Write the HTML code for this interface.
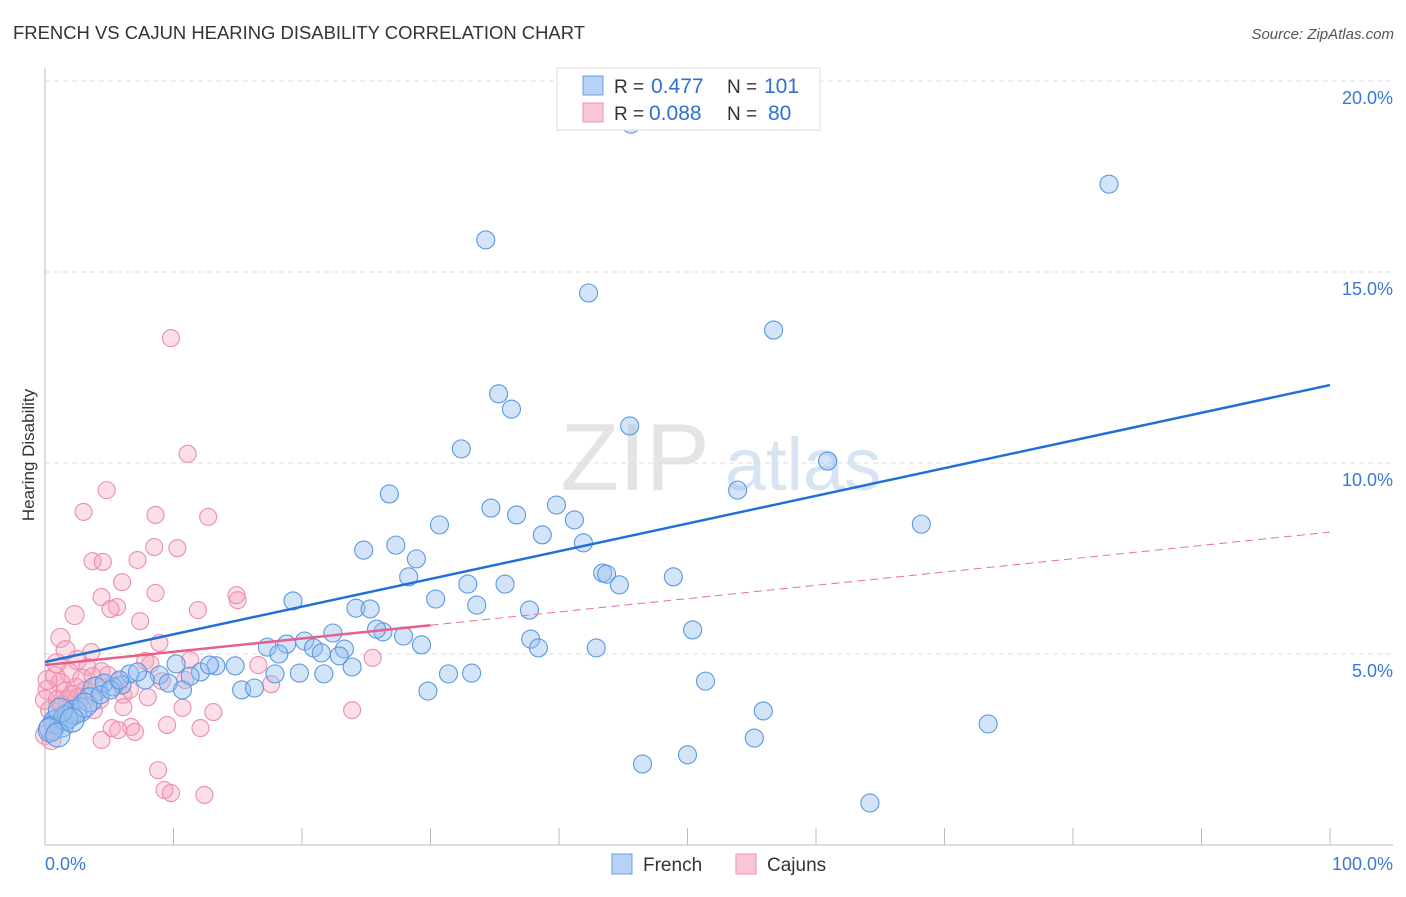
<!DOCTYPE html>
<html><head><meta charset="utf-8"><style>
body{margin:0;background:#fff;font-family:"Liberation Sans",sans-serif;}
svg text{font-family:"Liberation Sans",sans-serif;}
</style></head><body>
<svg id="chart" width="1406" height="892" viewBox="0 0 1406 892">
<text x="13" y="39" font-size="18" fill="#333" textLength="572" lengthAdjust="spacingAndGlyphs">FRENCH VS CAJUN HEARING DISABILITY CORRELATION CHART</text>
<text x="1394" y="39" font-size="15" fill="#555" font-style="italic" text-anchor="end">Source: ZipAtlas.com</text>
<g>
<text x="635" y="490" font-size="96" fill="#e4e4e4" text-anchor="middle" font-family="Liberation Serif,serif">ZIP</text>
<text x="803" y="490" font-size="74" fill="#d6e4f4" text-anchor="middle">atlas</text>
</g>
<g id="grid"></g><g id="axes"></g><g id="pts"></g><g id="trends"></g>
<text transform="translate(34,455) rotate(-90)" font-size="17" fill="#333" text-anchor="middle">Hearing Disability</text>
<text x="45" y="870" font-size="18" fill="#3a78d8">0.0%</text>
<text x="1393" y="870" font-size="18" fill="#3a78d8" text-anchor="end">100.0%</text>
<g>
<rect x="557" y="68" width="263" height="62" fill="#fff" stroke="#ddd"/>
<rect x="583" y="76" width="20" height="19" fill="#b7d2f5" stroke="#6a9fe0"/>
<rect x="583" y="103" width="20" height="19" fill="#f9c6d5" stroke="#eb95b0"/>
<text x="614" y="93" font-size="19" fill="#333">R = <tspan x="651" font-size="21" fill="#2f6fd4">0.477</tspan><tspan x="727">N = </tspan><tspan x="764" font-size="21" fill="#2f6fd4">101</tspan></text>
<text x="614" y="120" font-size="19" fill="#333">R = <tspan x="649" font-size="21" fill="#2f6fd4">0.088</tspan><tspan x="727">N = </tspan><tspan x="768" font-size="21" fill="#2f6fd4">80</tspan></text>
</g>
<g>
<rect x="612" y="854" width="20" height="20" fill="#b7d2f5" stroke="#6a9fe0"/>
<text x="643" y="871" font-size="19" fill="#333">French</text>
<rect x="736" y="854" width="20" height="20" fill="#f9c6d5" stroke="#eb95b0"/>
<text x="767" y="871" font-size="19" fill="#333">Cajuns</text>
</g>
</svg>
<script>
const yTicks=[5,10,15,20];
const yTickLabels=["5.0%","10.0%","15.0%","20.0%"];
const xTicks=[10,20,30,40,50,60,70,80,90,100];
const frenchX=[45.6,82.8,34.3,42.3,56.7,35.3,36.3,45.5,32.4,60.9,53.9,26.8,34.7,39.8,36.7,41.2,30.7,68.2,38.7,41.9,24.8,27.3,28.9,28.3,43.4,43.7,48.9,32.9,35.8,44.7,19.3,30.4,24.2,25.3,33.6,37.7,26.3,27.9,22.4,25.8,50.4,37.8,38.4,42.9,17.3,18.8,20.2,20.9,21.5,23.3,18.2,22.9,29.3,23.9,19.8,21.7,31.4,33.2,51.4,29.8,15.3,16.3,17.9,14.8,13.3,12.1,12.8,10.2,11.3,8.9,7.8,6.6,6.0,5.3,3.9,4.6,9.6,10.7,55.9,73.4,55.2,46.5,50.0,64.2,1.3,0.8,0.5,1.9,2.7,3.5,2.3,1.6,1.2,3.1,4.3,0.4,1.0,2.1,5.1,5.8,7.2];
const frenchY=[18.87,17.30,15.84,14.45,13.48,11.81,11.41,10.97,10.37,10.05,9.29,9.19,8.82,8.90,8.64,8.51,8.38,8.40,8.12,7.91,7.72,7.85,7.49,7.02,7.12,7.09,7.02,6.83,6.83,6.81,6.39,6.44,6.20,6.18,6.28,6.15,5.58,5.47,5.55,5.65,5.63,5.39,5.16,5.16,5.18,5.26,5.34,5.16,5.03,5.13,5.00,4.95,5.24,4.66,4.50,4.48,4.48,4.50,4.29,4.03,4.06,4.11,4.48,4.69,4.69,4.53,4.71,4.74,4.42,4.45,4.32,4.48,4.19,4.14,4.08,4.24,4.24,4.06,3.51,3.17,2.80,2.12,2.36,1.10,3.14,3.22,3.06,3.40,3.53,3.80,3.48,3.32,3.53,3.66,3.93,3.01,2.88,3.27,4.06,4.32,4.53];
const cajunX=[9.8,11.1,4.8,3.0,8.6,12.7,8.5,10.3,3.7,4.5,7.2,6.0,2.3,4.4,8.6,14.9,5.6,5.1,11.9,15.0,7.4,1.2,8.9,3.6,2.5,7.8,11.3,8.2,16.6,25.5,1.9,3.3,4.4,0.8,1.2,2.9,3.7,5.7,9.1,10.9,17.6,0.2,1.6,2.4,4.3,6.1,8.0,6.1,10.7,13.1,23.9,0,0.4,0.8,1.3,1.8,2.6,3.8,5.2,6.7,9.5,12.1,5.7,7.0,4.4,8.8,9.3,9.8,12.4,0,0.5,1.0,2.1,3.1,4.0,4.9,6.6,0.2,0.9,1.6];
const cajunY=[13.27,10.24,9.29,8.72,8.64,8.59,7.80,7.77,7.43,7.41,7.46,6.88,6.02,6.49,6.60,6.54,6.23,6.18,6.15,6.41,5.86,5.42,5.29,5.05,4.84,4.82,4.84,4.74,4.71,4.90,4.50,4.66,4.55,4.42,4.24,4.35,4.42,4.29,4.29,4.32,4.21,4.06,4.01,4.11,3.80,3.93,3.87,3.61,3.59,3.48,3.53,3.80,3.53,3.27,3.66,3.80,3.85,3.53,3.06,3.09,3.14,3.06,3.01,2.96,2.75,1.96,1.44,1.36,1.31,2.88,2.75,3.80,3.93,4.06,4.19,4.45,4.06,4.32,4.76,5.10];
const frenchTrend=[4.79,12.04];
const cajunTrend=[4.71,8.19];
const cajunSolidEnd=30;
const NS="http://www.w3.org/2000/svg";
const X=v=>45+v*12.85, Y=v=>845-v*38.2;
function mk(tag,attrs,parent){const e=document.createElementNS(NS,tag);for(const k in attrs)e.setAttribute(k,attrs[k]);parent.appendChild(e);return e;}
const grid=document.getElementById('grid'),axes=document.getElementById('axes'),pts=document.getElementById('pts'),tr=document.getElementById('trends');
yTicks.forEach((t,i)=>{
 const l=mk('line',{x1:45,x2:1393,y1:Y(t),y2:Y(t),stroke:'#ddd','stroke-dasharray':'5,4'},grid);
 
 
 const tx=mk('text',{x:1393,y:Y(t)+23,'font-size':18,fill:'#3a78d8','text-anchor':'end'},grid);
 tx.textContent=yTickLabels[i];
 
 
});
const ax=mk('line',{x1:45,x2:1393,y1:845,y2:845,stroke:'#bbb'},axes);


const ay=mk('line',{x1:45,x2:45,y1:68,y2:845,stroke:'#bbb'},axes);


xTicks.forEach(t=>{
 const l=mk('line',{x1:X(t),x2:X(t),y1:828,y2:845,stroke:'#bbb'},axes);
 
 
});
cajunX.forEach((x,i)=>{
 const c=mk('circle',{cx:X(x),cy:Y(cajunY[i]),r:x<3?9.5:8.5,fill:'rgba(245,160,188,0.35)',stroke:'#ea8fad','stroke-width':1.1},pts);
 
 
});
frenchX.forEach((x,i)=>{
 const c=mk('circle',{cx:X(x),cy:Y(frenchY[i]),r:x<4?12:9,fill:'rgba(150,190,240,0.42)',stroke:'#5a98e0','stroke-width':1.1},pts);
 
 
});
const fl=mk('line',{x1:X(0),y1:Y(frenchTrend[0]),x2:X(100),y2:Y(frenchTrend[1]),stroke:'#1f6fd6','stroke-width':2.5},tr);


const cy=x=>cajunTrend[0]+(cajunTrend[1]-cajunTrend[0])*x/100;
const cl=mk('line',{x1:X(0),y1:Y(cy(0)),x2:X(cajunSolidEnd),y2:Y(cy(cajunSolidEnd)),stroke:'#e8608a','stroke-width':2.5},tr);


const cd=mk('line',{x1:X(cajunSolidEnd),y1:Y(cy(cajunSolidEnd)),x2:X(100),y2:Y(cy(100)),stroke:'#e8709a','stroke-width':1,'stroke-dasharray':'8,5'},tr);


</script>
</body></html>
